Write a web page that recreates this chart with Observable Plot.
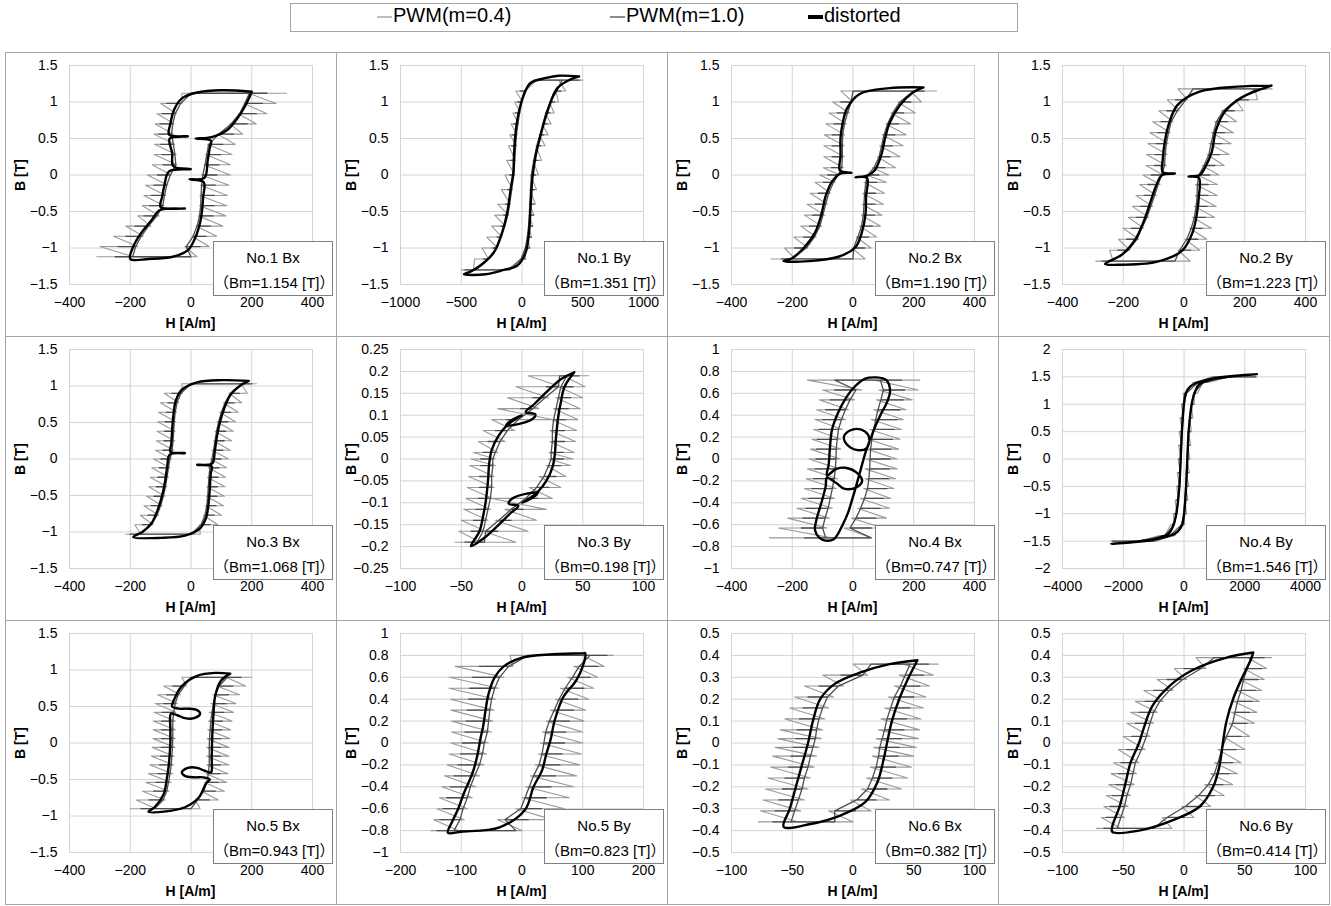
<!DOCTYPE html>
<html><head><meta charset="utf-8">
<script src="https://cdn.jsdelivr.net/npm/d3@7"></script>
<script src="https://cdn.jsdelivr.net/npm/@observablehq/plot@0.6"></script>
<style>
body{margin:0;background:#fff;}
#root{position:relative;width:1331px;height:906px;overflow:hidden;font-family:'Liberation Sans',Arial,Helvetica,sans-serif;color:#000;}
.frame{position:absolute;border:1px solid #a6a6a6;box-sizing:border-box;}
.note{position:absolute;border:1px solid #808080;background:#fff;box-sizing:border-box;text-align:center;font-size:15px;line-height:25px;padding-top:3px;font-family:'Liberation Sans','Noto Sans CJK JP',Arial,sans-serif;}
.xl{position:absolute;font-size:14px;font-weight:bold;text-align:center;white-space:nowrap;}
.yl{position:absolute;font-size:14px;font-weight:bold;white-space:nowrap;transform:translate(-50%,-50%) rotate(-90deg);}
.leg{position:absolute;left:290px;top:3px;width:728px;height:29px;border:1px solid #a6a6a6;box-sizing:border-box;}
.li{position:absolute;top:5px;font-size:20px;line-height:21px;white-space:nowrap;}
.sym{display:inline-block;width:15px;vertical-align:middle;margin-right:1px;}
</style></head><body><div id="root"></div>
<script>
// ---------- data ----------
const panelNames = ["No.1 Bx","No.1 By","No.2 Bx","No.2 By","No.3 Bx","No.3 By","No.4 Bx","No.4 By","No.5 Bx","No.5 By","No.6 Bx","No.6 By"];
const panelBm = ["1.154","1.351","1.190","1.223","1.068","0.198","0.747","1.546","0.943","0.823","0.382","0.414"];
const seriesNames = ["PWM(m=0.4)","PWM(m=1.0)","distorted"];

const xTicks400 = [-400,-200,0,200,400];
const xTicks1000 = [-1000,-500,0,500,1000];
const xTicks100 = [-100,-50,0,50,100];
const xTicks200 = [-200,-100,0,100,200];
const xTicks4000 = [-4000,-2000,0,2000,4000];
const yTicks15 = [-1.5,-1,-0.5,0,0.5,1,1.5];
const yTicks025 = [-0.25,-0.2,-0.15,-0.1,-0.05,0,0.05,0.1,0.15,0.2,0.25];
const yTicks1 = [-1,-0.8,-0.6,-0.4,-0.2,0,0.2,0.4,0.6,0.8,1];
const yTicks2 = [-2,-1.5,-1,-0.5,0,0.5,1,1.5,2];
const yTicks05 = [-0.5,-0.4,-0.3,-0.2,-0.1,0,0.1,0.2,0.3,0.4,0.5];

// PWM series: B levels, then [desc outer H, desc inner H, asc outer H, asc inner H] at those levels
// distorted: flat list H,B,H,B,... around the loop
const p1_b = [1.12,0.98,0.84,0.7,0.56,0.42,0.28,0.14,0,-0.14,-0.28,-0.42,-0.56,-0.7,-0.84,-0.98,-1.12];
const p1_pwm04 = [
 [-30,-100,-112,-118,-122,-120,-122,-128,-144,-150,-155,-160,-175,-215,-255,-300,-310],
 [310,-30,-48,-55,-58,-54,-49,-46,-64,-76,-83,-89,-105,-132,-157,-175,-190],
 [315,280,250,215,170,145,135,130,130,125,120,118,115,105,85,60,20],
 [190,175,155,128,88,54,48,42,35,31,29,28,24,16,3,-20,-200]];
const p1_pwm10 = [
 [0,-80,-95,-102,-106,-100,-95,-92,-110,-122,-130,-136,-155,-185,-215,-240,-250],
 [250,-34,-52,-60,-64,-58,-53,-50,-68,-80,-87,-93,-112,-140,-164,-182,-192],
 [250,235,215,185,140,105,98,92,85,80,77,76,72,64,50,30,0],
 [192,177,160,132,92,58,52,46,39,35,33,32,28,20,7,-16,-250]];
const p1_dist = [200,1.14, 100,1.16, 20,1.13, -30,1.05, -55,0.9, -68,0.7, -72,0.55, -10,0.53, -70,0.5, -62,0.3, -58,0.12, 0,0.08, -72,0.05, -88,-0.15, -95,-0.3, -100,-0.44, -20,-0.46, -102,-0.48, -130,-0.62, -165,-0.8, -190,-0.98, -200,-1.15, -140,-1.15, -60,-1.12, -10,-1.03, 15,-0.85, 30,-0.65, 36,-0.5, 40,-0.3, 42,-0.1, -5,-0.06, 44,-0.04, 55,0.2, 62,0.38, 66,0.47, 15,0.5, 68,0.52, 120,0.62, 160,0.82, 185,1.0];

const p2_b = [1.3,1.15,1.0,0.85,0.7,0.55,0.4,0.2,0,-0.2,-0.4,-0.55,-0.7,-0.85,-1.0,-1.15,-1.3];
const p2_pwm04 = [
 [120,-50,-60,-75,-90,-100,-110,-125,-140,-170,-200,-225,-250,-290,-330,-390,-500],
 [490,25,5,-13,-27,-39,-45,-53,-60,-78,-95,-110,-135,-165,-200,-275,-400],
 [500,360,300,265,240,215,190,160,135,120,110,100,90,80,65,30,-120],
 [300,280,225,190,165,140,115,90,70,65,60,57,52,42,25,-10,-490]];
const p2_pwm10 = [
 [100,-15,-35,-53,-67,-79,-85,-93,-100,-118,-135,-150,-175,-205,-240,-315,-470],
 [470,18,-2,-20,-34,-46,-52,-60,-67,-85,-102,-117,-142,-172,-207,-282,-400],
 [470,320,265,230,205,180,155,130,110,103,97,93,87,77,60,25,-100],
 [330,287,232,197,172,147,122,97,77,70,64,60,54,44,27,-8,-470]];
const p2_dist = [470,1.35, 300,1.36, 200,1.33, 70,1.26, 16,1.1, -25,0.87, -52,0.59, -66,0.27, -71,0.04, -93,-0.19, -121,-0.51, -162,-0.78, -231,-1.06, -341,-1.24, -420,-1.32, -478,-1.36, -300,-1.36, -150,-1.3, -38,-1.24, 30,-1.06, 58,-0.78, 71,-0.42, 85,-0.05, 113,0.27, 154,0.55, 209,0.87, 291,1.19, 400,1.31];

const p3_b = [1.15,1.0,0.85,0.7,0.55,0.4,0.25,0.1,0,-0.1,-0.25,-0.4,-0.55,-0.7,-0.85,-1.0,-1.15];
const p3_pwm04 = [
 [-40,-67,-79,-89,-95,-96,-96,-98,-110,-125,-141,-151,-160,-172,-195,-225,-270],
 [270,0,-12,-22,-28,-29,-29,-31,-43,-58,-74,-84,-93,-103,-121,-148,-190],
 [275,225,205,190,175,165,155,140,118,110,104,100,96,90,78,60,40],
 [190,148,125,108,96,88,80,63,43,36,32,30,28,22,10,-4,-270]];
const p3_pwm10 = [
 [0,-40,-52,-62,-68,-69,-69,-71,-83,-98,-114,-124,-133,-143,-163,-192,-235],
 [235,-6,-18,-28,-34,-35,-35,-37,-49,-64,-80,-90,-99,-109,-127,-154,-200],
 [235,190,167,150,138,130,122,105,85,78,74,72,70,64,52,38,0],
 [200,154,131,114,102,94,86,69,49,42,38,36,34,28,16,2,-235]];
const p3_dist = [232,1.2, 120,1.19, 22,1.11, -20,0.91, -34,0.71, -41,0.51, -41,0.26, -43,0.06, -5,0.03, -42,0.02, -69,-0.09, -90,-0.29, -104,-0.54, -125,-0.79, -160,-0.99, -201,-1.14, -229,-1.18, -145,-1.18, -48,-1.12, 8,-0.99, 29,-0.79, 41,-0.54, 43,-0.29, 46,-0.04, 8,-0.03, 48,-0.01, 71,0.06, 92,0.26, 106,0.51, 120,0.71, 155,0.96, 197,1.13];

const p4_b = [1.18,1.03,0.88,0.73,0.58,0.43,0.28,0.13,0,-0.13,-0.28,-0.43,-0.58,-0.73,-0.88,-1.03,-1.18];
const p4_pwm04 = [
 [-20,-55,-83,-103,-112,-119,-123,-125,-135,-146,-158,-170,-183,-200,-216,-245,-290],
 [290,12,-16,-36,-45,-52,-56,-58,-68,-79,-91,-103,-116,-133,-149,-178,-233],
 [290,242,195,173,163,155,148,132,115,110,109,106,100,90,75,52,20],
 [233,170,123,101,91,83,76,60,43,38,37,34,28,18,3,-20,-290]];
const p4_pwm10 = [
 [30,-28,-56,-76,-85,-92,-96,-98,-108,-119,-131,-143,-156,-173,-189,-218,-270],
 [270,6,-22,-42,-51,-58,-62,-64,-74,-85,-97,-109,-122,-139,-155,-184,-239],
 [270,212,165,143,133,125,118,102,85,80,79,76,70,60,45,22,-30],
 [239,176,129,107,97,89,82,66,49,44,43,40,34,24,9,-14,-270]];
const p4_dist = [288,1.225, 175,1.21, 49,1.14, -21,0.96, -49,0.71, -63,0.46, -70,0.21, -70,0.04, -30,0.02, -72,0.0, -91,-0.14, -112,-0.39, -133,-0.64, -161,-0.89, -204,-1.09, -260,-1.22, -218,-1.23, -91,-1.19, -7,-1.04, 28,-0.79, 42,-0.54, 49,-0.29, 49,-0.04, 15,-0.02, 52,0.0, 70,0.11, 91,0.31, 105,0.61, 133,0.86, 189,1.06];

const p5_b = [1.03,0.9,0.77,0.64,0.51,0.38,0.25,0.12,0,-0.12,-0.25,-0.38,-0.51,-0.64,-0.77,-0.9,-1.03];
const p5_pwm04 = [
 [-30,-88,-101,-107,-110,-112,-114,-117,-124,-129,-134,-139,-146,-155,-167,-185,-215],
 [215,-28,-41,-47,-50,-52,-54,-57,-64,-69,-74,-79,-86,-95,-107,-125,-165],
 [215,185,167,155,146,139,134,129,124,117,114,112,110,107,101,88,30],
 [165,125,107,95,86,79,74,69,64,57,54,52,50,47,41,28,-215]];
const p5_pwm10 = [
 [0,-63,-76,-82,-85,-87,-89,-92,-99,-104,-109,-114,-121,-130,-142,-160,-200],
 [200,-33,-46,-52,-55,-57,-59,-62,-69,-74,-79,-84,-91,-100,-112,-130,-170],
 [200,160,142,130,121,114,109,104,99,92,89,87,85,82,76,63,0],
 [170,130,112,100,91,84,79,74,69,62,59,57,55,52,46,33,-200]];
const p5_dist = [190,1.07, 100,1.08, 20,1.05, -30,0.95, -50,0.8, -58,0.6, -62,0.4, -65,0.2, -68,0.1, -20,0.08, -70,0.06, -78,-0.1, -85,-0.3, -95,-0.5, -110,-0.7, -130,-0.88, -160,-1.0, -190,-1.07, -100,-1.08, -20,-1.05, 30,-0.95, 50,-0.8, 58,-0.6, 62,-0.4, 65,-0.2, 68,-0.1, 20,-0.08, 70,-0.06, 78,0.1, 85,0.3, 95,0.5, 110,0.7, 130,0.88, 160,1.0];

const p6_b = [0.19,0.165,0.14,0.115,0.09,0.065,0.04,0.015,0,-0.015,-0.04,-0.065,-0.09,-0.115,-0.14,-0.165,-0.19];
const p6_pwm04 = [
 [5,-5,-12,-20,-25,-32,-36,-40,-42,-43,-44,-45,-46,-48,-50,-52,-55],
 [48,32,22,14,25,-6,-14,-20,-22,-22,-23,-23,-24,-26,-28,-30,-34],
 [55,52,50,48,46,45,44,43,42,40,36,32,25,20,12,5,-5],
 [34,30,28,26,24,23,23,22,22,20,14,6,-25,-14,-22,-32,-48]];
const p6_pwm10 = [
 [31,20,9,-1,-13,-22,-28,-32,-34,-34,-35,-35,-36,-38,-40,-42,-47],
 [45,30,19,9,-3,-12,-18,-22,-24,-24,-25,-25,-26,-28,-30,-32,-37],
 [47,42,40,38,36,35,35,34,34,32,28,22,13,1,-9,-20,-31],
 [37,32,30,28,26,25,25,24,24,22,18,12,3,-9,-19,-30,-45]];
const p6_dist = [43,0.198, 32,0.182, 21,0.155, 10,0.125, 3,0.107, 11,0.102, 8,0.09, -4,0.079, -13,0.077, -9,0.088, 0,0.1, -6,0.09, -13,0.075, -20,0.05, -25,0.02, -27,-0.01, -28,-0.05, -30,-0.1, -32,-0.13, -35,-0.165, -42,-0.199, -32,-0.182, -21,-0.155, -10,-0.125, -3,-0.107, -11,-0.102, -8,-0.09, 4,-0.079, 13,-0.077, 9,-0.088, 0,-0.1, 6,-0.09, 13,-0.075, 20,-0.05, 25,-0.02, 27,0.01, 28,0.05, 30,0.1, 32,0.13, 35,0.165];

const p7_b = [0.72,0.63,0.54,0.45,0.36,0.27,0.18,0.09,0,-0.09,-0.18,-0.27,-0.36,-0.45,-0.54,-0.63,-0.72];
const p7_pwm04 = [
 [-150,-100,-110,-120,-125,-130,-135,-140,-145,-150,-155,-160,-170,-185,-215,-245,-275],
 [220,30,5,-15,-25,-35,-40,-40,-42,-45,-50,-55,-60,-68,-78,-85,-70],
 [220,215,195,175,165,160,155,150,145,145,140,135,125,120,110,100,60],
 [70,85,78,68,60,55,50,45,42,40,40,35,25,15,-5,-30,-275]];
const p7_pwm10 = [
 [-60,-60,-75,-90,-100,-112,-118,-120,-122,-125,-130,-136,-145,-155,-165,-170,-160],
 [150,10,-10,-25,-38,-48,-52,-55,-56,-58,-62,-68,-75,-82,-92,-100,-90],
 [160,170,165,155,145,136,130,125,122,120,118,112,100,90,75,60,60],
 [90,100,92,82,75,68,62,58,56,55,52,48,38,25,10,-10,-150]];
const p7_dist = [78,0.745, 40,0.735, 5,0.66, -25,0.55, -48,0.43, -69,0.27, -76,0.1, -80,-0.05, -86,-0.15, -55,-0.09, -25,-0.08, 10,-0.12, 30,-0.2, 10,-0.26, -30,-0.27, -55,-0.22, -86,-0.17, -90,-0.25, -104,-0.4, -120,-0.55, -125,-0.65, -110,-0.72, -90,-0.745, -62,-0.73, -34,-0.6, -15,-0.48, -6,-0.4, 10,-0.25, 25,-0.1, 40,0.05, 55,0.17, 45,0.1, 20,0.08, -15,0.12, -30,0.2, -10,0.26, 25,0.27, 50,0.22, 55,0.17, 69,0.27, 90,0.4, 112,0.52, 122,0.62, 110,0.72];

const p8_b = [1.5,1.4,1.2,1.0,0.75,0.5,0.25,0,-0.25,-0.5,-0.75,-1.0,-1.2,-1.4,-1.5];
const p8_pwm04 = [
 [900,300,-30,-90,-130,-160,-180,-200,-225,-245,-290,-350,-440,-800,-2400],
 [2350,470,90,20,-20,-50,-70,-90,-115,-135,-180,-240,-310,-630,-1480],
 [2400,800,440,350,290,245,225,200,180,160,130,90,30,-300,-900],
 [1480,630,310,240,180,135,115,90,70,50,20,-20,-90,-470,-2350]];
const p8_pwm10 = [
 [1000,350,20,-50,-90,-120,-140,-160,-185,-205,-250,-310,-380,-750,-2350],
 [2300,460,80,10,-30,-60,-80,-100,-125,-145,-190,-250,-320,-640,-1490],
 [2350,750,380,310,250,205,185,160,140,120,90,50,-20,-350,-1000],
 [1490,640,320,250,190,145,125,100,80,60,30,-10,-80,-460,-2300]];
const p8_dist = [2400,1.55, 1600,1.51, 900,1.46, 450,1.4, 200,1.32, 60,1.2, 0,1.02, -70,0.5, -110,0.0, -160,-0.55, -270,-1.05, -380,-1.25, -500,-1.36, -1000,-1.47, -1700,-1.52, -2400,-1.55, -1600,-1.51, -900,-1.46, -450,-1.4, -200,-1.32, -60,-1.2, 0,-1.02, 70,-0.5, 110,0.0, 160,0.55, 270,1.05, 380,1.25, 500,1.36, 1000,1.47, 1700,1.52];

const p9_b = [0.9,0.78,0.66,0.54,0.42,0.3,0.18,0.06,-0.06,-0.18,-0.3,-0.42,-0.54,-0.66,-0.78,-0.9];
const p9_pwm04 = [
 [-30,-90,-110,-118,-122,-125,-125,-125,-128,-130,-135,-140,-148,-160,-180,-200],
 [190,-15,-35,-45,-50,-52,-52,-52,-53,-55,-57,-60,-65,-72,-85,-115],
 [200,180,160,148,140,135,130,128,125,125,125,122,118,110,90,30],
 [115,85,72,65,60,57,55,53,52,52,52,50,45,35,15,-190]];
const p9_pwm10 = [
 [0,-60,-80,-90,-95,-97,-97,-97,-98,-100,-103,-108,-115,-123,-138,-165],
 [165,-22,-42,-52,-57,-60,-60,-60,-61,-63,-65,-69,-74,-80,-92,-120],
 [165,138,123,115,108,103,100,98,97,97,97,95,90,80,60,0],
 [120,92,80,74,69,65,63,61,60,60,60,57,52,42,22,-165]];
const p9_dist = [129,0.95, 80,0.96, 20,0.92, -30,0.78, -55,0.6, -62,0.5, -40,0.47, -10,0.47, 20,0.45, 30,0.4, 10,0.34, -20,0.34, -45,0.38, -66,0.4, -68,0.2, -68,0.0, -73,-0.3, -80,-0.5, -90,-0.7, -120,-0.88, -140,-0.94, -90,-0.94, -20,-0.88, 25,-0.75, 50,-0.55, 62,-0.5, 40,-0.47, 10,-0.47, -20,-0.45, -30,-0.4, -10,-0.34, 20,-0.34, 45,-0.38, 66,-0.4, 68,-0.2, 70,0.1, 74,0.4, 80,0.65, 98,0.85];

const p10_b = [0.8,0.7,0.6,0.5,0.4,0.3,0.2,0.1,0,-0.1,-0.2,-0.3,-0.4,-0.5,-0.6,-0.7,-0.8];
const p10_pwm04 = [
 [-20,-110,-120,-120,-118,-117,-116,-116,-117,-120,-123,-128,-132,-136,-140,-145,-150],
 [145,-15,-30,-38,-43,-46,-48,-50,-55,-58,-63,-70,-76,-82,-90,-95,-105],
 [150,135,125,118,110,105,102,100,100,98,95,90,85,78,70,50,0],
 [100,85,75,63,55,47,40,33,30,27,22,14,6,0,-10,-40,-145]];
const p10_pwm10 = [
 [10,-70,-82,-86,-88,-90,-92,-94,-98,-101,-105,-112,-118,-124,-130,-135,-140],
 [125,-22,-37,-45,-50,-53,-55,-57,-62,-65,-70,-78,-85,-90,-97,-102,-112],
 [140,125,112,102,92,85,78,72,70,66,62,55,48,40,32,10,-10],
 [112,94,83,71,61,53,45,39,36,33,28,19,12,5,-2,-28,-125]];
const p10_dist = [102,0.82, 50,0.81, 0,0.78, -30,0.7, -45,0.6, -55,0.45, -60,0.3, -64,0.15, -68,0.05, -73,-0.1, -80,-0.25, -87,-0.35, -95,-0.45, -105,-0.6, -115,-0.72, -122,-0.82, -100,-0.81, -37,-0.77, 5,-0.61, 19,-0.4, 33,-0.25, 40,-0.1, 47,0.03, 54,0.21, 68,0.42, 89,0.57, 100,0.7, 104,0.82];

const p11_b = [0.36,0.31,0.26,0.21,0.16,0.11,0.06,0.02,-0.02,-0.06,-0.11,-0.16,-0.21,-0.26,-0.31,-0.36];
const p11_pwm04 = [
 [0,-25,-40,-48,-52,-56,-60,-62,-64,-66,-68,-70,-72,-74,-76,-78],
 [70,12,-8,-16,-20,-23,-25,-26,-28,-30,-32,-35,-37,-40,-43,-46],
 [70,66,63,60,58,56,55,54,52,50,48,45,40,30,15,0],
 [42,38,34,29,26,23,21,19,17,16,14,11,7,-2,-20,-70]];
const p11_pwm10 = [
 [15,-10,-28,-37,-41,-44,-46,-47,-49,-51,-53,-56,-58,-61,-64,-66],
 [60,8,-12,-21,-25,-28,-30,-31,-33,-35,-37,-40,-42,-45,-48,-51],
 [62,58,55,50,47,44,42,40,38,37,35,32,28,19,2,-15],
 [47,43,39,34,31,28,26,24,22,21,19,16,12,3,-15,-60]];
const p11_dist = [53,0.378, 30,0.36, 5,0.32, -15,0.27, -27,0.2, -33,0.1, -37,0.0, -42,-0.1, -47,-0.2, -52,-0.3, -57,-0.383, -35,-0.37, -10,-0.33, 10,-0.27, 20,-0.18, 25,-0.08, 28,0.0, 32,0.1, 38,0.2, 45,0.29];

const p12_b = [0.39,0.34,0.29,0.24,0.19,0.14,0.09,0.03,-0.03,-0.09,-0.14,-0.19,-0.24,-0.29,-0.34,-0.39];
const p12_pwm04 = [
 [10,-8,-22,-33,-40,-44,-47,-50,-54,-58,-60,-62,-64,-66,-68,-70],
 [72,18,2,-9,-17,-22,-25,-28,-32,-37,-39,-41,-44,-46,-49,-52],
 [70,68,66,64,62,60,58,54,50,47,44,40,33,22,8,-10],
 [52,49,46,44,41,39,37,32,28,25,22,17,9,-2,-18,-72]];
const p12_pwm10 = [
 [25,0,-14,-25,-32,-37,-40,-43,-47,-52,-54,-56,-59,-61,-64,-66],
 [62,14,-1,-12,-20,-25,-28,-31,-35,-40,-42,-44,-47,-49,-52,-55],
 [66,64,61,59,56,54,52,47,43,40,37,32,25,14,0,-25],
 [55,52,49,47,44,42,40,35,31,28,25,20,12,1,-14,-62]];
const p12_dist = [57,0.413, 35,0.39, 6,0.33, -12,0.26, -26,0.17, -33,0.07, -37,0.0, -44,-0.09, -48,-0.18, -53,-0.29, -59,-0.38, -59,-0.406, -37,-0.4, -8,-0.35, 13,-0.29, 24,-0.2, 29,-0.11, 32,0.0, 35,0.1, 41,0.21, 48,0.3, 55,0.38];

// ---------- table built from the arrays ----------
const panelXTicks = [xTicks400,xTicks1000,xTicks400,xTicks400,xTicks400,xTicks100,xTicks400,xTicks4000,xTicks400,xTicks200,xTicks100,xTicks100];
const panelYTicks = [yTicks15,yTicks15,yTicks15,yTicks15,yTicks15,yTicks025,yTicks1,yTicks2,yTicks15,yTicks1,yTicks05,yTicks05];
const panelB = [p1_b,p2_b,p3_b,p4_b,p5_b,p6_b,p7_b,p8_b,p9_b,p10_b,p11_b,p12_b];
const panelW04 = [p1_pwm04,p2_pwm04,p3_pwm04,p4_pwm04,p5_pwm04,p6_pwm04,p7_pwm04,p8_pwm04,p9_pwm04,p10_pwm04,p11_pwm04,p12_pwm04];
const panelW10 = [p1_pwm10,p2_pwm10,p3_pwm10,p4_pwm10,p5_pwm10,p6_pwm10,p7_pwm10,p8_pwm10,p9_pwm10,p10_pwm10,p11_pwm10,p12_pwm10];
const panelDist = [p1_dist,p2_dist,p3_dist,p4_dist,p5_dist,p6_dist,p7_dist,p8_dist,p9_dist,p10_dist,p11_dist,p12_dist];

function loopPts(flat){const o=[];for(let i=0;i<flat.length;i+=2)o.push({h:flat[i],b:flat[i+1]});o.push({h:o[0].h,b:o[0].b});return o;}
// spikes=false: sawtooth through inner/outer points; spikes=true: backbone with out-and-back ripple spikes
function pwmPts(bl,w,spikes){const [dOut,dIn,aOut,aIn]=w;const o=[];const n=bl.length;
  for(let i=0;i<n;i++){o.push({h:dIn[i],b:bl[i]});o.push({h:dOut[i],b:bl[i]});if(spikes&&i>0&&i<n-1)o.push({h:dIn[i],b:bl[i]});}
  for(let i=n-1;i>=0;i--){o.push({h:aIn[i],b:bl[i]});o.push({h:aOut[i],b:bl[i]});if(spikes&&i>0&&i<n-1)o.push({h:aIn[i],b:bl[i]});}
  o.push({h:o[0].h,b:o[0].b});return o;}

const fmt = d => (d < 0 ? "\u2212" : "") + Math.abs(d);
const FONT = "'Liberation Sans', Arial, Helvetica, sans-serif";
const C04 = "#9a9a9a", C10 = "#4d4d4d", CD = "#000000";

const root = document.getElementById("root");

// legend
const leg = document.createElement("div"); leg.className = "leg"; root.appendChild(leg);
const legX = [377, 610, 808];
const legC = [C04, C10, CD];
const legW = [1.3, 1.3, 4];
seriesNames.forEach((s,i)=>{
  const d = document.createElement("div"); d.className = "li"; d.style.left = legX[i] + "px";
  d.innerHTML = `<svg class="sym" width="15" height="21"><line x1="0" x2="15" y1="11" y2="11" stroke="${legC[i]}" stroke-width="${legW[i]}"/></svg>${s}`;
  root.appendChild(d);
});

const CW = 331, CH = 284, X0 = 5, Y0 = 52;
const ML = 64, MR = 24, MT = 13, MB = 52;

panelNames.forEach((name, k) => {
  const col = k % 4, row = Math.floor(k / 4);
  const left = X0 + col * CW, top = Y0 + row * CH;
  const xt = panelXTicks[k], yt = panelYTicks[k];
  const svg = Plot.plot({
    width: CW, height: CH,
    marginLeft: ML, marginRight: MR, marginTop: MT, marginBottom: MB,
    x: {domain: [xt[0], xt[xt.length - 1]]},
    y: {domain: [yt[0], yt[yt.length - 1]]},
    style: {fontFamily: FONT, fontSize: "14px", background: "transparent", color: "#000", overflow: "visible"},
    marks: [
      Plot.gridX(xt, {stroke: "#d4d4d4", strokeOpacity: 1}),
      Plot.gridY(yt, {stroke: "#d4d4d4", strokeOpacity: 1}),
      Plot.line(pwmPts(panelB[k], panelW04[k], false), {x: "h", y: "b", z: null, stroke: C04, strokeWidth: 1.1, clip: true}),
      Plot.line(pwmPts(panelB[k], panelW10[k], true), {x: "h", y: "b", z: null, stroke: C10, strokeWidth: 1.3, clip: true}),
      Plot.line(loopPts(panelDist[k]), {x: "h", y: "b", z: null, stroke: CD, strokeWidth: 2.4, curve: "catmull-rom", clip: true}),
      Plot.axisX(xt, {tickSize: 0, tickPadding: 13, tickFormat: fmt, label: null}),
      Plot.axisY(yt, {tickSize: 0, tickPadding: 12, tickFormat: fmt, label: null})
    ]
  });
  svg.style.position = "absolute"; svg.style.left = left + "px"; svg.style.top = top + "px";
  root.appendChild(svg);

  const fr = document.createElement("div"); fr.className = "frame";
  Object.assign(fr.style, {left: left + "px", top: top + "px", width: (CW + 1) + "px", height: (CH + 1) + "px"});
  root.appendChild(fr);

  const xl = document.createElement("div"); xl.className = "xl"; xl.textContent = "H [A/m]";
  Object.assign(xl.style, {left: (left + ML) + "px", width: (CW - ML - MR) + "px", top: (top + CH - MB + 31) + "px"});
  root.appendChild(xl);

  const yl = document.createElement("div"); yl.className = "yl"; yl.textContent = "B [T]";
  Object.assign(yl.style, {left: (left + 15) + "px", top: (top + MT + (CH - MT - MB) / 2) + "px"});
  root.appendChild(yl);

  const nb = document.createElement("div"); nb.className = "note";
  Object.assign(nb.style, {left: (left + 208) + "px", top: (top + 189) + "px", width: "120px", height: "55px"});
  nb.innerHTML = `${name}<br>\uff08Bm=${panelBm[k]} [T]\uff09`;
  root.appendChild(nb);
});
</script></body></html>
